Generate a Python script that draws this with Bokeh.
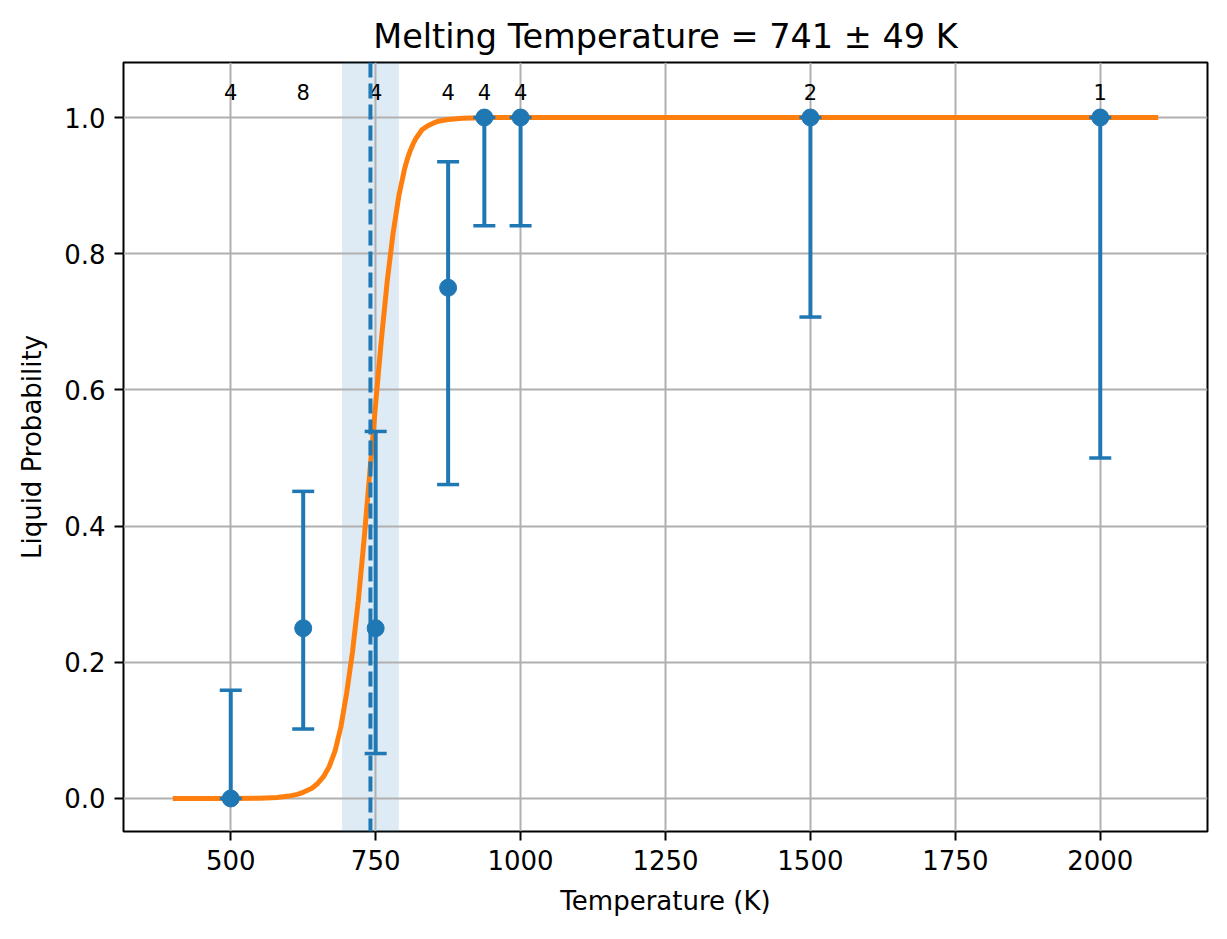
from bokeh.plotting import figure
from bokeh.models import Range1d, FixedTicker, Span, ColumnDataSource, NumeralTickFormatter
from bokeh.core.properties import value
from bokeh.embed import file_html
from bokeh.resources import INLINE

# ---- data ----
temps = [500, 625, 750, 875, 937.5, 1000, 1500, 2000]
prob = [0.0, 0.25, 0.25, 0.75, 1.0, 1.0, 1.0, 1.0]
err_low = [0.0, 0.102, 0.066, 0.461, 0.841, 0.841, 0.707, 0.500]
err_high = [0.159, 0.451, 0.539, 0.935, 1.0, 1.0, 1.0, 1.0]
counts = ["4", "8", "4", "4", "4", "4", "2", "1"]

fit_T = [400, 500, 550, 580, 600, 615, 625, 640, 650, 660, 670, 680, 690, 700,
         710, 720, 730, 740, 750, 760, 770, 780, 790, 800, 805, 810, 815, 820,
         830, 840, 850, 860, 875, 900, 950, 1000, 2100]
fit_P = [0.0, 0.0001, 0.0005, 0.0015, 0.0035, 0.006, 0.009, 0.015, 0.022, 0.032,
         0.047, 0.07, 0.105, 0.155, 0.215, 0.29, 0.38, 0.48, 0.58, 0.675, 0.76,
         0.83, 0.885, 0.925, 0.94, 0.952, 0.962, 0.97, 0.982, 0.988, 0.992,
         0.995, 0.997, 0.999, 1.0, 1.0, 1.0]

t_melt = 741
t_err = 49
title_text = "Melting Temperature = 741 \u00b1 49 K"
x_ticks = [500, 750, 1000, 1250, 1500, 1750, 2000]
y_ticks = [0.0, 0.2, 0.4, 0.6, 0.8, 1.0]

BLUE = "#1f77b4"
ORANGE = "#ff7f0e"
FONT = "DejaVu Sans"

p = figure(width=1219, height=931, output_backend="svg", toolbar_location=None,
           x_range=Range1d(315, 2185), y_range=Range1d(-0.0485, 1.0808),
           min_border_left=123, min_border_right=12, min_border_top=62,
           min_border_bottom=100, title=title_text)

p.title.align = "center"
p.title.text_font = FONT
p.title.text_font_size = "33.5px"
p.title.text_font_style = "normal"
p.title.text_color = "black"
p.title.standoff = 14

p.outline_line_color = "black"
p.outline_line_width = 2
p.background_fill_color = "white"
p.border_fill_color = "white"

for ax in (p.xaxis[0], p.yaxis[0]):
    ax.axis_line_color = None
    ax.major_tick_line_color = "black"
    ax.major_tick_line_width = 2
    ax.major_tick_out = 9
    ax.major_tick_in = 0
    ax.minor_tick_line_color = None
    ax.major_label_text_font = FONT
    ax.major_label_text_font_size = "26px"
    ax.major_label_text_color = "black"
    ax.major_label_standoff = 9
    ax.axis_label_text_font = FONT
    ax.axis_label_text_font_size = "26px"
    ax.axis_label_text_font_style = "normal"
    ax.axis_label_text_color = "black"

p.xaxis.ticker = FixedTicker(ticks=x_ticks)
p.yaxis.ticker = FixedTicker(ticks=y_ticks)
p.yaxis.formatter = NumeralTickFormatter(format="0.0")
p.xaxis.axis_label = "Temperature (K)"
p.yaxis.axis_label = "Liquid Probability"
p.xaxis.axis_label_standoff = 13
p.yaxis.axis_label_standoff = 14

p.xgrid.ticker = FixedTicker(ticks=x_ticks)
p.ygrid.ticker = FixedTicker(ticks=y_ticks)
for g in (p.xgrid[0], p.ygrid[0]):
    g.grid_line_color = "#b0b0b0"
    g.grid_line_width = 2
    g.level = "underlay"

# uncertainty band (below the grid)
p.quad(left=[t_melt - t_err], right=[t_melt + t_err], bottom=[-10], top=[10],
       fill_color=BLUE, fill_alpha=0.15, line_color=None, level="image")

# fitted curve
p.line(fit_T, fit_P, line_color=ORANGE, line_width=5)

# melting temperature line
p.add_layout(Span(location=t_melt, dimension="height", line_color=BLUE,
                  line_width=4, line_dash="15 6", level="glyph"))

# error bars
src = ColumnDataSource(dict(x=temps, y=prob, lo=err_low, hi=err_high, n=counts,
                            ty=[1.037] * len(temps)))
p.segment(x0="x", y0="lo", x1="x", y1="hi", source=src, line_color=BLUE, line_width=4)
p.scatter(x="x", y="lo", source=src, marker="dash", size=22, line_color=BLUE, line_width=3.5)
p.scatter(x="x", y="hi", source=src, marker="dash", size=22, line_color=BLUE, line_width=3.5)

# markers
p.scatter(x="x", y="y", source=src, marker="circle", size=17, fill_color=BLUE,
          line_color=BLUE)

# counts
p.text(x="x", y="ty", text="n", source=src, text_align="center", text_baseline="middle",
       text_font=value(FONT), text_font_size="21px", text_color="black")

open("out.html", "w").write(file_html(p, INLINE))
